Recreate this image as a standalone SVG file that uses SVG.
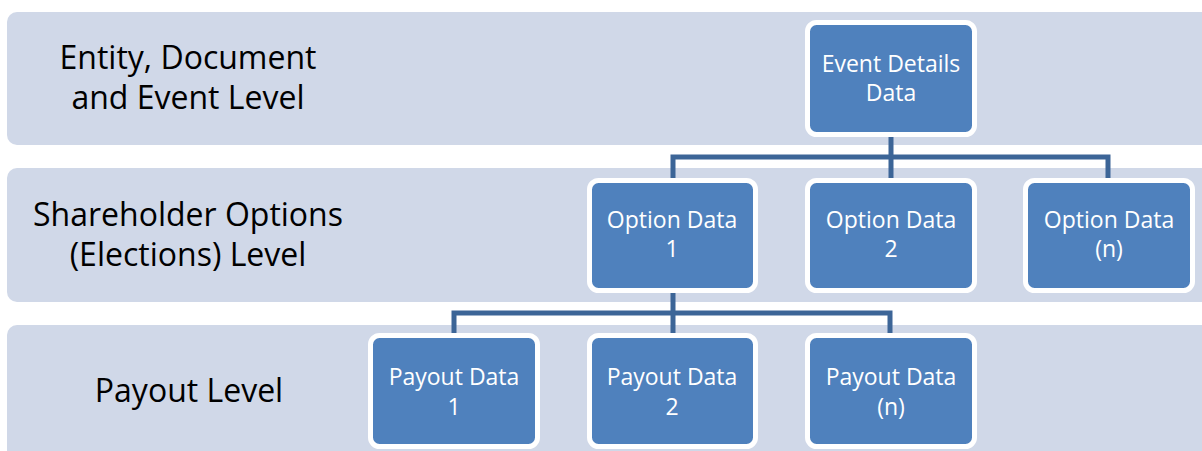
<svg xmlns="http://www.w3.org/2000/svg" width="1202" height="451" viewBox="0 0 1202 451">
<style>
.band{fill:#D0D8E8}
.node rect{fill:#4F81BD;stroke:#FFFFFF;stroke-width:5}
.node text{fill:#FFFFFF;font-family:"Open Sans","Liberation Sans",sans-serif;font-size:23px;text-anchor:middle}
.lbl{fill:#000000;font-family:"Open Sans","Liberation Sans",sans-serif;font-size:32px;text-anchor:middle}
.conn{fill:none;stroke:#3C6597;stroke-width:5}
</style>
<rect width="1202" height="451" fill="#FFFFFF"/>
<g id="bands">
<rect class="band" x="7" y="12" width="1215" height="133" rx="10"/>
<rect class="band" x="7" y="168" width="1215" height="134" rx="10"/>
<rect class="band" x="7" y="325" width="1215" height="150" rx="10"/>
<text class="lbl" x="188" y="69">Entity, Document</text>
<text class="lbl" x="188" y="109">and Event Level</text>
<text class="lbl" x="188" y="226">Shareholder Options</text>
<text class="lbl" x="188" y="266">(Elections) Level</text>
<text class="lbl" x="189" y="402">Payout Level</text>
</g>
<g id="connectors">
<path class="conn" d="M891 134 V179 M673 179 V157 H1108 V179"/>
<path class="conn" d="M673 290 V336 M454 336 V313 H890 V336"/>
</g>
<g id="event" class="node"><rect x="807.5" y="22.5" width="167" height="112" rx="9"/><text x="891" y="72">Event Details</text><text x="891" y="101">Data</text></g>
<g id="opt1" class="node"><rect x="589.5" y="180.5" width="166" height="110" rx="9"/><text x="672" y="228">Option Data</text><text x="672" y="257">1</text></g>
<g id="opt2" class="node"><rect x="807.5" y="180.5" width="167" height="110" rx="9"/><text x="891" y="228">Option Data</text><text x="891" y="257">2</text></g>
<g id="optn" class="node"><rect x="1025.5" y="180.5" width="167" height="110" rx="9"/><text x="1109" y="228">Option Data</text><text x="1109" y="257">(n)</text></g>
<g id="pay1" class="node"><rect x="370.5" y="335.5" width="167" height="111" rx="9"/><text x="454" y="385">Payout Data</text><text x="454" y="415">1</text></g>
<g id="pay2" class="node"><rect x="589.5" y="335.5" width="166" height="111" rx="9"/><text x="672" y="385">Payout Data</text><text x="672" y="415">2</text></g>
<g id="payn" class="node"><rect x="807.5" y="335.5" width="167" height="111" rx="9"/><text x="891" y="385">Payout Data</text><text x="891" y="415">(n)</text></g>
</svg>
